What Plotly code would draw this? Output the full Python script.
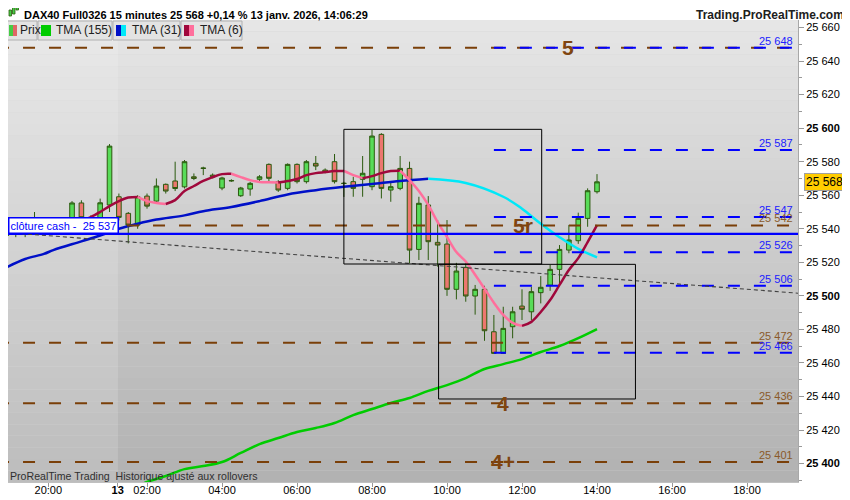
import plotly.graph_objects as go

# 15 minute bars, index 0 = first bar shown (12 Jan evening), 63 = 14:00 on 13 Jan
bar_idx = list(range(64))
opens = [25536, 25538, 25540, 25540, 25542, 25541, 25543, 25546.4, 25555.4, 25546,
	25545.6, 25554.2, 25559.1, 25549.2, 25542.2, 25559.5, 25556.5, 25566.5, 25568.5, 25565,
	25571, 25576.3, 25572, 25564.3, 25568.8, 25559.7, 25563.7, 25569.5, 25578.4, 25568.1,
	25564.1, 25578.4, 25568.1, 25579, 25575, 25580, 25567.2, 25568.1, 25569.5, 25565.1,
	25596.3, 25563.1, 25564.1, 25576, 25527.7, 25554.2, 25531.9, 25530.9, 25503.9, 25517,
	25499.9, 25503.9, 25478.6, 25465.7, 25481.6, 25493.9, 25490.5, 25501.9, 25506.4, 25515.8,
	25527.3, 25532.9, 25546.2, 25562.1]
highs = [25541, 25542, 25543, 25550, 25545, 25546, 25545, 25556.5, 25557, 25548,
	25558, 25590.5, 25561, 25550, 25560, 25561, 25570, 25567, 25580, 25581,
	25573, 25577, 25573, 25571, 25569.5, 25565, 25568, 25572, 25579, 25569,
	25579, 25579, 25581, 25583.4, 25576, 25584.6, 25568, 25571, 25583.4, 25598.9,
	25597, 25568.1, 25583.4, 25580, 25559.1, 25559.5, 25545.2, 25545.2, 25519.7, 25519.4,
	25506.5, 25506, 25488.6, 25493.5, 25493.5, 25503.9, 25505.4, 25511.8, 25518.4, 25530.3,
	25542.3, 25549.6, 25564.1, 25572.6]
lows = [25533, 25535, 25535, 25537, 25538, 25539, 25539, 25543, 25544, 25541,
	25543, 25550, 25545, 25531.3, 25540, 25552, 25555, 25561, 25562.5, 25564,
	25569, 25572, 25570, 25563, 25568, 25559, 25559.7, 25568, 25568, 25562,
	25563, 25567, 25567, 25575, 25573, 25567, 25559, 25559.1, 25559.1, 25563,
	25558.1, 25556.1, 25563, 25519.4, 25521.4, 25521.4, 25517.4, 25500, 25497.9, 25496.5,
	25488.8, 25473.2, 25465.5, 25465.5, 25474.7, 25485.6, 25485.6, 25495.5, 25503, 25506.4,
	25525.4, 25531, 25541.2, 25561]
closes = [25538, 25539, 25538, 25542, 25541, 25543, 25542, 25555.4, 25546.6, 25545,
	25555.5, 25589.3, 25546.8, 25542.2, 25559.1, 25553.5, 25565.5, 25562.5, 25564, 25580,
	25570, 25576, 25571, 25570.3, 25568.6, 25564.3, 25567.1, 25571, 25570.1, 25563.1,
	25578.4, 25568.1, 25580, 25577.4, 25574, 25568.1, 25567, 25564.1, 25573.1, 25595.3,
	25564.1, 25565.1, 25576, 25527.3, 25555.2, 25532.3, 25530.3, 25503.9, 25514.8, 25499.9,
	25503.9, 25479.2, 25465.7, 25480.6, 25490.5, 25492, 25502.5, 25505.1, 25515.8, 25527.7,
	25533.3, 25546.2, 25562.7, 25568]

# TMA (6), one value per bar
tma6 = [25539, 25539.5, 25540, 25540.5, 25541, 25542, 25543, 25544, 25545, 25547,
	25550, 25553.5, 25556.5, 25558.6, 25559, 25556.5, 25555.4, 25554.8, 25557.1, 25562.5,
	25565.5, 25568.5, 25570.8, 25572.6, 25572.8, 25570.8, 25569, 25567.9, 25567.7, 25567.6,
	25568.5, 25569.7, 25572, 25573.2, 25573.8, 25574.4, 25574.5, 25572, 25570.2, 25571.4,
	25573.2, 25574.4, 25574.6, 25569, 25562.5, 25554.2, 25544, 25535.1, 25526.1, 25520.5,
	25512.6, 25504.3, 25495.9, 25488.6, 25483.9, 25482.1, 25484.5, 25490.4, 25497.5, 25506.5,
	25515.4, 25522.5, 25532.1, 25542.2]

# TMA (31)
tma31_bars = [0, 2, 4, 5, 8, 10, 12, 14, 16, 19, 21, 24, 27, 30, 33, 36, 39, 42, 45,
	49, 53, 55, 57, 59, 61, 63]
tma31_vals = [25517, 25522, 25525, 25527.3, 25532.5, 25536, 25540, 25543, 25545.5, 25548,
	25550.5, 25553, 25556.5, 25560.5, 25563, 25565, 25566.7, 25568.5, 25569.8,
	25567.3, 25559.1, 25552, 25543, 25535, 25528, 25523]

# TMA (155)
tma155_bars = [13, 15, 17, 19, 21, 23, 25, 27, 29, 31, 33, 35, 37, 39, 41, 43, 45, 47,
	49, 51, 53, 55, 57, 59, 61, 63]
tma155_vals = [25384, 25389, 25392.6, 25396.7, 25398.5, 25400.9, 25406.3, 25411.6, 25415.2,
	25418.8, 25421.2, 25424.2, 25428.9, 25432.5, 25436.1, 25439.1, 25443.3, 25446.8,
	25451, 25456.4, 25459.3, 25462.3, 25466.5, 25470.1, 25474.8, 25480.2]

# drawn levels
brown_levels = [25648, 25542, 25472, 25436, 25401]
brown_labelled = [False, True, True, True, True]
blue_levels = [25648, 25587, 25547, 25526, 25506, 25466]
blue_start_bar = 52
cash_close = 25537
wave_text = ['5', '5r', '4', '4+']
wave_bar = [59.9, 55.1, 53, 53]
wave_price = [25648, 25542, 25436, 25401]
trend_bars = [-0.68, 84.44]
trend_prices = [25538.1, 25501.6]
boxes = [(36.0, 57.1, 25519, 25599.3), (46.1, 67.1, 25438.5, 25518.8)]
last_price = 25568
day_break = 11.9

x_tick_pos = [4.47, 11.87, 15, 23, 31, 39, 47, 55, 63, 71, 79]
x_tick_text = ['20:00', '<b>13</b>', '02:00', '04:00', '06:00', '08:00', '10:00', '12:00',
	'14:00', '16:00', '18:00']
y_ticks = list(range(25400, 25661, 20))

X_RANGE = [0.17, 84.44]
Y_RANGE = [25389.0, 25664.5]

# the page body has an 8px margin, so the figure is drawn 8px smaller and everything
# below is given in screen pixels and moved back by that margin
OFF = 8
W, H = 850 - OFF, 500 - OFF
PL, PR, PT, PB = OFF, 798, 20, 482   # plot area on screen
FONT = 'Liberation Sans, Arial, sans-serif'
BROWN = '#7a3f08'
BLUE = '#0000ff'


def px(x):
	return (x - PL) / (PR - PL)


def py(y):
	return (PB - y) / (PB - PT)


def fmt(v):
	return f"{v:,}".replace(',', ' ')


def split_runs(xs, ys):
	'''
	split a line into rising / falling pieces so each piece can get its own colour
	'''
	runs = []
	cur = [0]
	cur_up = None
	for k in range(1, len(xs)):
		up = ys[k] >= ys[k - 1]
		if cur_up is None or up == cur_up:
			cur.append(k)
		else:
			runs.append((cur_up, cur))
			cur = [k - 1, k]
		cur_up = up
	runs.append((cur_up, cur))
	return [(up, [xs[i] for i in idx], [ys[i] for i in idx]) for up, idx in runs]


fig = go.Figure()

fig.add_trace(go.Candlestick(
	x=bar_idx, open=opens, high=highs, low=lows, close=closes,
	increasing=dict(fillcolor='#58dc58', line=dict(color='#2b5a0e', width=1)),
	decreasing=dict(fillcolor='#ec776f', line=dict(color='#2b5a0e', width=1)),
	whiskerwidth=0, showlegend=False, hoverinfo='skip'))

fig.add_trace(go.Scatter(x=tma155_bars, y=tma155_vals, mode='lines',
	line=dict(color='#00cc00', width=2.5, shape='spline'), showlegend=False, hoverinfo='skip'))

for up, xs, ys in split_runs(tma31_bars, tma31_vals):
	fig.add_trace(go.Scatter(x=xs, y=ys, mode='lines',
		line=dict(color='#0010c8' if up else '#00e8f8', width=2.5, shape='spline'),
		showlegend=False, hoverinfo='skip'))

for up, xs, ys in split_runs(bar_idx, tma6):
	fig.add_trace(go.Scatter(x=xs, y=ys, mode='lines',
		line=dict(color='#a0083c' if up else '#ff6f9c', width=2.5, shape='spline'),
		showlegend=False, hoverinfo='skip'))

shapes = []
annotations = []

# grey gradient behind the chart
n_bands = 40
for k in range(n_bands):
	t = k / (n_bands - 1)
	c = int(230 - t * 52)
	shapes.append(dict(type='rect', xref='paper', yref='paper', layer='below',
		x0=0, x1=1, y0=1 - (k + 1) / n_bands, y1=1 - k / n_bands,
		fillcolor=f'rgb({c},{c},{c})', line=dict(width=0)))
# previous session is a bit lighter
shapes.append(dict(type='rect', xref='x', yref='paper', layer='below', x0=X_RANGE[0], x1=day_break,
	y0=0, y1=1, fillcolor='rgba(255,255,255,0.15)', line=dict(width=0)))

for lv in brown_levels:
	shapes.append(dict(type='line', xref='x', yref='y', x0=-1, x1=X_RANGE[1], y0=lv, y1=lv,
		line=dict(color=BROWN, width=2, dash='12px,14px')))
for lv in blue_levels:
	shapes.append(dict(type='line', xref='x', yref='y', x0=blue_start_bar, x1=X_RANGE[1], y0=lv, y1=lv,
		line=dict(color=BLUE, width=2, dash='12px,14px')))
shapes.append(dict(type='line', xref='x', yref='y', x0=X_RANGE[0], x1=X_RANGE[1],
	y0=cash_close, y1=cash_close, line=dict(color=BLUE, width=2.2)))
shapes.append(dict(type='line', xref='x', yref='y', x0=trend_bars[0], x1=trend_bars[1],
	y0=trend_prices[0], y1=trend_prices[1], line=dict(color='#404040', width=1.1, dash='4px,3px')))
for x0, x1, y0, y1 in boxes:
	shapes.append(dict(type='rect', xref='x', yref='y', x0=x0, x1=x1, y0=y0, y1=y1,
		line=dict(color='black', width=1)))

# level prices on the right edge
for lv, show in zip(brown_levels, brown_labelled):
	if show:
		annotations.append(dict(xref='paper', yref='y', x=px(795), y=lv, xanchor='right', yanchor='bottom',
			text=fmt(lv), showarrow=False, font=dict(size=11, color='#8a5a2a', family=FONT), yshift=-1))
for lv in blue_levels:
	annotations.append(dict(xref='paper', yref='y', x=px(795), y=lv, xanchor='right', yanchor='bottom',
		text=fmt(lv), showarrow=False, font=dict(size=11, color='#2020ff', family=FONT), yshift=-1))

for t, b, p in zip(wave_text, wave_bar, wave_price):
	annotations.append(dict(xref='x', yref='y', x=b, y=p, text='<b>' + t + '</b>', showarrow=False,
		yanchor='middle', font=dict(size=21, color='#7f4510', family=FONT)))

annotations.append(dict(xref='paper', yref='y', x=px(8), y=cash_close, xanchor='left', yanchor='bottom',
	text='clôture cash -\u00a0\u00a025 537', showarrow=False, bgcolor='white', bordercolor=BLUE,
	borderwidth=1.5, borderpad=1, font=dict(size=11, color=BLUE, family=FONT)))

annotations.append(dict(xref='paper', yref='y', x=px(804), y=last_price, xanchor='left', yanchor='middle',
	text=fmt(last_price), showarrow=False, bgcolor='#ffcc00', bordercolor='#a0a0a0', borderwidth=1,
	borderpad=1, font=dict(size=12, color='black', family=FONT)))

# header
annotations.append(dict(xref='paper', yref='paper', x=px(22), y=py(14.5), xanchor='left', yanchor='middle',
	text='<b>DAX40 Full0326 15 minutes 25 568 +0,14 % 13 janv. 2026, 14:06:29</b>', showarrow=False,
	font=dict(size=11, color='black', family=FONT)))
annotations.append(dict(xref='paper', yref='paper', x=px(846), y=py(14.5), xanchor='right', yanchor='middle',
	text='<b>Trading.ProRealTime.com</b>', showarrow=False, font=dict(size=12, color='#202020', family=FONT)))
for x0, y0, y1 in [(9, 10, 16), (12.5, 7, 14), (16, 4, 10)]:
	shapes.append(dict(type='rect', xref='paper', yref='paper', x0=px(x0), x1=px(x0 + 2.5),
		y0=py(y1), y1=py(y0), fillcolor='#44cc44', line=dict(color='#2b5a0e', width=0.8)))
annotations.append(dict(xref='paper', yref='paper', x=px(8), y=py(476), xanchor='left', yanchor='middle',
	text='ProRealTime Trading  Historique ajusté aux rollovers', showarrow=False,
	font=dict(size=10.6, color='#303030', family=FONT)))

# legend strip: (left, right, label, icon colours, icon left, icon half width, text left)
legend_boxes = [(0, 37, 'Prix', ['#44cc44', '#e06666'], 9, 4, 18),
	(38, 112, 'TMA (155)', ['#00cc00', '#00cc00'], 41, 5, 54),
	(113, 180, 'TMA (31)', ['#0010c8', '#00e8f8'], 116, 5, 130),
	(181, 242, 'TMA (6)', ['#a0083c', '#ff6f9c'], 184, 5, 198)]
for x0, x1, label, cols, ix, iw, tx in legend_boxes:
	shapes.append(dict(type='rect', xref='paper', yref='paper', x0=px(x0), x1=px(x1), y0=py(40), y1=py(21),
		fillcolor='#e3e3e3', line=dict(color='#b0b0b0', width=1)))
	shapes.append(dict(type='rect', xref='paper', yref='paper', x0=px(ix), x1=px(ix + iw), y0=py(36),
		y1=py(25), fillcolor=cols[0], line=dict(width=0)))
	shapes.append(dict(type='rect', xref='paper', yref='paper', x0=px(ix + iw), x1=px(ix + 2 * iw),
		y0=py(36), y1=py(25), fillcolor=cols[1], line=dict(width=0)))
	annotations.append(dict(xref='paper', yref='paper', x=px(tx), y=py(30.5), xanchor='left',
		yanchor='middle', text=label, showarrow=False, font=dict(size=12, color='#202020', family=FONT)))

y_tick_text = ['<b>' + fmt(v) + '</b>' if v % 100 == 0 else fmt(v) for v in y_ticks]

fig.update_layout(
	width=W, height=H, margin=dict(l=PL - OFF, r=850 - PR, t=PT - OFF, b=500 - PB, autoexpand=False),
	paper_bgcolor='white', plot_bgcolor='#d0d0d0', showlegend=False,
	font=dict(family=FONT, size=11, color='black'),
	shapes=shapes, annotations=annotations,
	xaxis=dict(range=X_RANGE, tickvals=x_tick_pos, ticktext=x_tick_text, ticks='outside', ticklen=4,
		ticklabelstandoff=-6, tickcolor='#999999', showgrid=False, zeroline=False, showline=True,
		linecolor='#c0c0c0', rangeslider=dict(visible=False), tickfont=dict(size=11)),
	yaxis=dict(range=Y_RANGE, side='right', tickvals=y_ticks, ticktext=y_tick_text, ticks='outside',
		ticklen=5, tickcolor='#999999', showgrid=False, zeroline=False, showline=True, linecolor='#a8a8a8',
		tickfont=dict(size=11),
		minor=dict(tickmode='linear', tick0=25400, dtick=10, ticks='outside', ticklen=3,
			tickcolor='#999999', showgrid=False)),
)

fig.write_html("out.html")
